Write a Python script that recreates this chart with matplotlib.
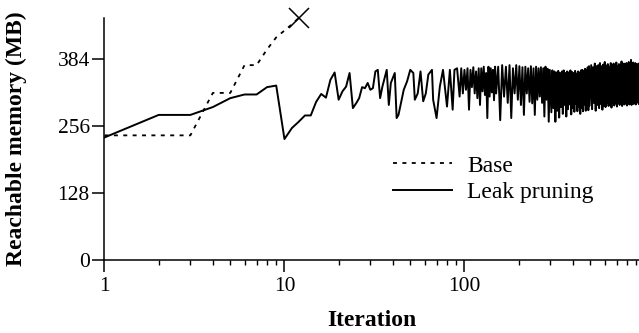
import matplotlib
matplotlib.use('Agg')
import matplotlib.pyplot as plt
from matplotlib.ticker import FixedLocator, LogLocator, NullFormatter

# Base run: iterations 1..12, then it dies (X marker)
base_iter = [1, 2, 3, 4, 5, 6, 7, 8, 9, 10, 11, 12]
base_mb = [238, 238, 238, 319, 319, 372, 372, 402, 425, 438, 450, 462]

# Leak pruning run, vertices
leak_iter = [1, 2, 3, 4, 5, 6, 7, 8, 9, 10, 11, 12, 13, 14, 15, 16, 17, 18, 19, 20,
             21, 22, 23, 24, 25, 26, 27, 28, 29, 30, 31, 32, 33, 34, 35, 37, 38, 39, 41, 42,
             43, 46, 48, 50, 52, 53, 55, 57, 59, 61, 63, 66, 67, 70, 73, 76, 80, 83, 86, 88,
             91,
             94, 96, 98, 100, 102, 104, 106, 108, 110, 112, 114, 116, 118, 120, 122, 124, 126, 128, 130, 132,
             134, 136, 138, 140, 142, 144, 146, 148, 150,
             154, 158, 162, 166, 170, 174, 178, 182, 186, 190, 194, 198, 202, 206, 210, 214, 218, 222, 226, 230,
             234, 238, 242, 246, 250, 254, 258, 262, 266, 270, 274, 278, 282, 286, 290, 294, 298,
             304, 308, 312, 316, 320, 324, 328, 332, 336, 340, 344, 348, 352, 356, 360, 364, 368, 372, 376,
             380, 384, 388, 392, 396, 400, 404, 408, 412, 416, 420, 424, 428, 432, 436, 440, 444, 448, 452, 456,
             460, 464, 468, 472, 476, 480, 484, 488, 492, 496,
             506, 512, 518, 524, 530, 536, 542, 548, 554, 560, 566, 572, 578, 584, 590, 596, 602, 608, 614, 620,
             626, 632, 638, 644, 650, 656, 662, 668, 674, 680, 686, 692, 698, 704, 710, 716, 722, 728, 734, 740,
             746, 752, 758, 764, 770, 776, 782, 788, 794, 800, 806, 812, 818, 824, 830, 836, 842, 848, 854, 860,
             866, 872, 878, 884, 890, 896, 902, 908, 914, 920, 926, 932]
leak_mb = [234, 277, 277, 292, 309, 316, 316, 330, 333, 231, 252, 264, 276, 276, 302, 317, 310, 344, 358, 306,
           322, 331, 357, 290, 299, 309, 330, 328, 338, 325, 328, 360, 363, 309, 331, 363, 296, 338, 357, 271,
           277, 325, 341, 363, 357, 306, 318, 360, 303, 318, 354, 363, 306, 271, 331, 363, 293, 363, 287, 363,
           366,
           312, 366, 318, 363, 325, 366, 287, 363, 330, 368, 318, 360, 309, 366, 296, 366, 322, 369, 315, 357,
           271, 369, 312, 366, 320, 363, 305, 369, 318,
           369, 267, 372, 312, 369, 300, 372, 271, 366, 318, 372, 306, 370, 296, 368, 277, 369, 318, 366, 302,
           370, 299, 366, 277, 369, 306, 366, 312, 368, 300, 366, 274, 369, 306, 365, 264, 363,
           282, 362, 290, 360, 264, 358, 285, 361, 272, 357, 292, 360, 279, 362, 296, 357, 274, 360, 288,
           358, 297, 362, 278, 359, 290, 357, 283, 361, 298, 356, 284, 360, 293, 358, 279, 362, 290, 363, 284,
           360, 297, 365, 285, 362, 292, 368, 286, 370, 295,
           372, 288, 368, 300, 375, 285, 370, 296, 372, 290, 376, 298, 370, 287, 373, 295, 378, 292, 371, 300,
           374, 294, 369, 298, 376, 291, 372, 300, 375, 295, 371, 299, 377, 293, 370, 301, 374, 296, 372, 300,
           379, 294, 371, 299, 375, 297, 370, 302, 376, 295, 373, 300, 378, 297, 371, 301, 382, 296, 374, 299,
           377, 298, 372, 302, 376, 297, 374, 300, 371, 303, 375, 298]

y_ticks = [0, 128, 256, 384]
x_ticks = [1, 10, 100]
x_tick_labels = ['1', '10', '100']

plt.rcParams['font.family'] = ['Liberation Serif', 'DejaVu Serif']

fig = plt.figure(figsize=(6.39, 3.33), dpi=100)
ax = fig.add_axes([0.1635, 0.219, 0.845, 0.727])

ax.plot(base_iter, base_mb, color='black', lw=1.3, linestyle=(0, (2.2, 3.0)), label='Base')
ax.plot(leak_iter, leak_mb, color='black', lw=1.4, label='Leak pruning')
ax.plot(base_iter[-1], base_mb[-1], marker='x', color='black', markersize=15,
        markeredgewidth=1.1, clip_on=False, linestyle='none')

ax.set_xscale('log')
ax.set_xlim(1, 1000)
ax.set_ylim(0, 462)

ax.xaxis.set_major_locator(FixedLocator(x_ticks))
ax.set_xticklabels(x_tick_labels)
ax.xaxis.set_minor_locator(LogLocator(base=10, subs=range(2, 10)))
ax.xaxis.set_minor_formatter(NullFormatter())
ax.set_yticks(y_ticks)

for s in ['top', 'right']:
    ax.spines[s].set_visible(False)
for s in ['left', 'bottom']:
    ax.spines[s].set_linewidth(1.1)

ax.tick_params(axis='y', direction='out', length=8.5, width=1.1, labelsize=15.5, pad=2)
ax.tick_params(axis='x', which='major', direction='out', length=8.5, width=1.1, labelsize=15.5, pad=4)
ax.tick_params(axis='x', which='minor', direction='out', length=3.6, width=1.0)

ax.set_xlabel('Iteration', fontsize=17, fontweight='bold')
ax.set_ylabel('Reachable memory (MB)', fontsize=17, fontweight='bold')
ax.xaxis.set_label_coords(0.495, -0.207)
ax.yaxis.set_label_coords(-0.1435, 0.5)

fig.legend(loc='center left', bbox_to_anchor=(393 / 639, 1 - 179 / 333), frameon=False,
           fontsize=17, handlelength=2.5, handletextpad=0.64, labelspacing=0.19,
           borderpad=0, borderaxespad=0)

fig.savefig('out.png', dpi=100)
